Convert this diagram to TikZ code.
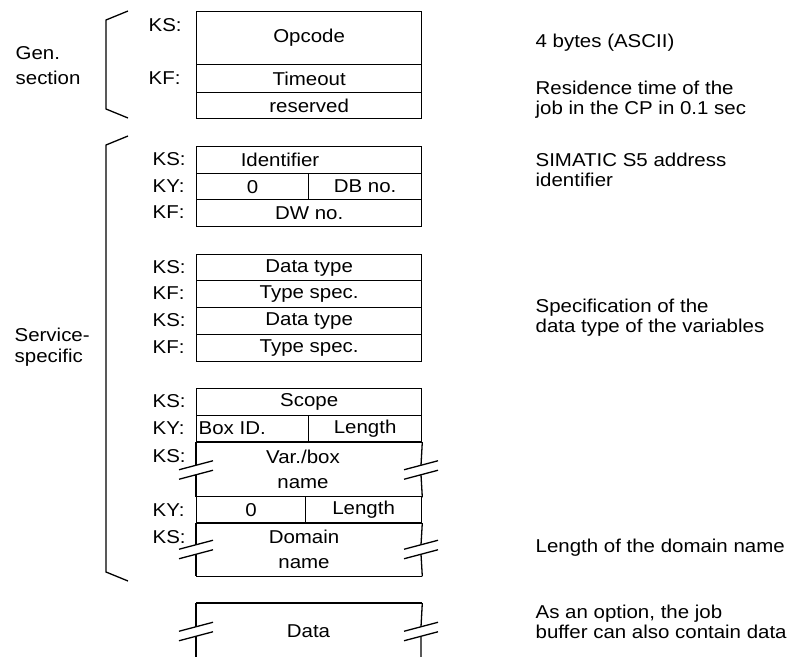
\documentclass[tikz,border=0pt]{standalone}
\usepackage{fontspec}
\setmainfont{Liberation Sans}[FakeStretch=1.1]
\begin{document}
\begin{tikzpicture}[x=1pt,y=-1pt,line width=1.3pt,
  every node/.style={inner sep=0pt,font=\fontsize{18.6}{20}\selectfont},
  cell/.style={draw,anchor=north west,minimum width=225pt},
  half/.style={draw,anchor=north west},
  open/.style={anchor=north west,minimum width=225pt},
  lbl/.style={anchor=west},
  desc/.style={anchor=west,align=left},
  brace/.style={line width=1.3pt},
  brk/.style={line width=1.3pt}]
\useasboundingbox (0,0) rectangle (792,656);
% general section
\node[cell,minimum height=53pt] (opcode) at (196,11) {Opcode};
\node[cell,minimum height=28pt] (timeout) at (196,64) {Timeout};
\node[cell,minimum height=26pt] (reserved) at (196,92) {reserved};
\node[lbl] (lks1) at (148,25) {KS:};
\node[lbl] (lkf1) at (148,78) {KF:};
% address
\node[cell,minimum height=27pt] (ident) at (196,146) {};
\node (identt) at (280,159.5) {Identifier};
\node[half,minimum width=112pt,minimum height=26pt] (zero1) at (196,173) {0};
\node[half,minimum width=113pt,minimum height=26pt] (dbno) at (308,173) {DB no.};
\node[cell,minimum height=27pt] (dwno) at (196,199) {DW no.};
\node[lbl] (lks2) at (152,159.5) {KS:};
\node[lbl] (lky2) at (152,186) {KY:};
\node[lbl] (lkf2) at (152,212.5) {KF:};
% data types
\node[cell,minimum height=26pt] (dt1) at (196,254) {Data type};
\node[cell,minimum height=27pt] (ts1) at (196,280) {Type spec.};
\node[cell,minimum height=27pt] (dt2) at (196,307) {Data type};
\node[cell,minimum height=27pt] (ts2) at (196,334) {Type spec.};
\node[lbl] (lks3) at (152,267) {KS:};
\node[lbl] (lkf3) at (152,293.5) {KF:};
\node[lbl] (lks4) at (152,320.5) {KS:};
\node[lbl] (lkf4) at (152,347.5) {KF:};
% scope
\node[cell,minimum height=27pt] (scope) at (196,388) {Scope};
\node[half,minimum width=112pt,minimum height=27pt] (boxid) at (196,415) {};
\node[anchor=west] (boxidt) at (198,428.5) {Box ID.};
\node[half,minimum width=113pt,minimum height=27pt] (len1) at (308,415) {Length};
\node[open,minimum height=54pt] (var) at (196,442) {};
\node[align=center] (vart) at (303,469.5) {Var./box\\[5pt]name};
\node[half,minimum width=109pt,minimum height=27pt] (zero2) at (196,496) {0};
\node[half,minimum width=116pt,minimum height=27pt] (len2) at (305,496) {Length};
\node[open,minimum height=52pt] (dom) at (196,523) {};
\node[align=center] (domt) at (304,549) {Domain\\[5pt]name};
\node[lbl] (lks5) at (152,401.5) {KS:};
\node[lbl] (lky5) at (152,428.5) {KY:};
\node[lbl] (lks6) at (152,456) {KS:};
\node[lbl] (lky6) at (152,510) {KY:};
\node[lbl] (lks7) at (152,537) {KS:};
% data
\node[open,minimum height=60pt] (data) at (196,603) {};
\node (datat) at (308.5,631.5) {Data};
% open boxes: top/bottom lines and broken sides
\draw (var.north west) -- (var.north east);
\draw (dom.north west) -- (dom.north east);
\draw (dom.south west) -- (dom.south east);
\draw (data.north west) -- (data.north east);
\draw (var.north west) -- (196,465.25) (196,474.75) -- (var.south west);
\draw (var.north east) -- (421,465.25) (421,474.75) -- (var.south east);
\draw (dom.north west) -- (196,544.75) (196,554.25) -- (dom.south west);
\draw (dom.north east) -- (421,544.75) (421,554.25) -- (dom.south east);
\draw (data.north west) -- (196,626.75) (196,636.25) -- (196,660);
\draw (data.north east) -- (421,626.75) (421,636.25) -- (421,660);
% break marks
\foreach \bx/\by in {196/470,421/470,196/549.5,421/549.5,196/631.5,421/631.5}{
  \draw[brk] (\bx-17,\by-0.25) -- (\bx+17,\by-9.25);
  \draw[brk] (\bx-17,\by+9.25) -- (\bx+17,\by+0.25);
}
% brackets
\coordinate (g1) at (128,11);
\coordinate (g2) at (106,20);
\coordinate (g3) at (106,109);
\coordinate (g4) at (128,118);
\draw[brace] (g1) -- (g2) -- (g3) -- (g4);
\coordinate (s1) at (128,136);
\coordinate (s2) at (106,145);
\coordinate (s3) at (106,572);
\coordinate (s4) at (128,581);
\draw[brace] (s1) -- (s2) -- (s3) -- (s4);
\node[desc] (gen) at (15,65.5) {Gen.\\[5pt]section};
\node[desc] (serv) at (14,347.5) {Service-\\[1pt]specific};
% descriptions
\node[desc] (d1) at (535,43) {4 bytes (ASCII)};
\node[desc] (d2) at (535,100) {Residence time of the\\job in the CP in 0.1 sec};
\node[desc] (d3) at (535,170) {SIMATIC S5 address\\identifier};
\node[desc] (d4) at (535,318) {Specification of the\\data type of the variables};
\node[desc] (d5) at (535,548) {Length of the domain name};
\node[desc] (d6) at (535,622) {As an option, the job\\buffer can also contain data};
\end{tikzpicture}
\end{document}
